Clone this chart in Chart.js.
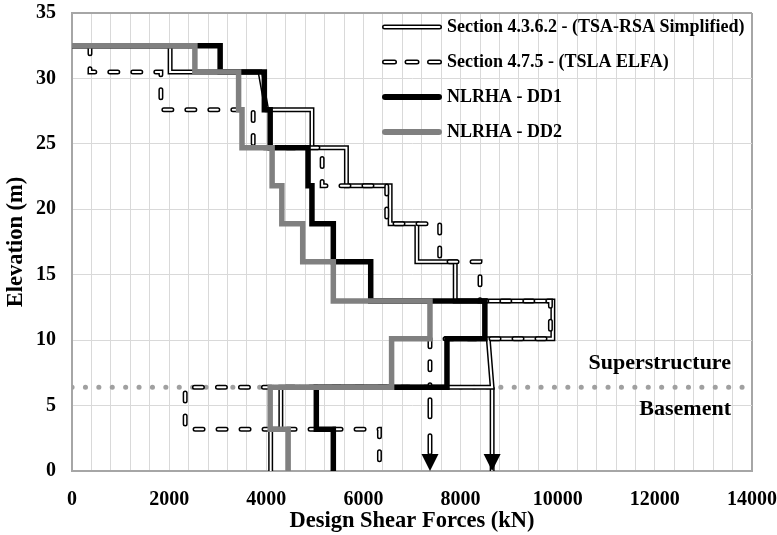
<!DOCTYPE html>
<html>
<head>
<meta charset="utf-8">
<script src="https://cdn.jsdelivr.net/npm/chart.js@4.4.1/dist/chart.umd.min.js"></script>
<style>
  html, body { margin: 0; padding: 0; background: #fff; }
  #wrap { width: 777px; height: 535px; }
</style>
</head>
<body>
<div id="wrap"><canvas id="shearChart" width="777" height="535"></canvas></div>
<script>
// step points of each curve: shear (kN) and elevation (m)
const rsaX = [0, 2020, 2020, 3870, 4010, 4940, 4940, 5650, 5650, 6550, 6550, 7100, 7100, 7890, 7890, 9900, 9900, 8570, 8650, 4300, 4300, 4090, 4090];
const rsaY = [32.5, 32.5, 30.5, 30.5, 27.6, 27.6, 24.7, 24.7, 21.8, 21.8, 18.9, 18.9, 16.0, 16.0, 13.0, 13.0, 10.1, 10.1, 6.4, 6.4, 3.2, 3.2, 0];

const elfaX = [370, 370, 1830, 1830, 3730, 3730, 5150, 5150, 6480, 6480, 7570, 7570, 8400, 8400, 9850, 9850, 7370, 7370, 2330, 2330, 6330, 6330];
const elfaY = [32.5, 30.5, 30.5, 27.6, 27.6, 24.7, 24.7, 21.8, 21.8, 18.9, 18.9, 16.0, 16.0, 13.0, 13.0, 10.1, 10.1, 6.4, 6.4, 3.2, 3.2, 0];

const dd1X = [0, 3050, 3050, 3960, 3960, 4080, 4080, 4860, 4860, 4940, 4940, 5380, 5380, 6150, 6150, 8500, 8500, 7720, 7720, 5030, 5030, 5380, 5380];
const dd1Y = [32.5, 32.5, 30.5, 30.5, 27.6, 27.6, 24.7, 24.7, 21.8, 21.8, 18.9, 18.9, 16.0, 16.0, 13.0, 13.0, 10.1, 10.1, 6.4, 6.4, 3.2, 3.2, 0];

const dd2X = [0, 2530, 2530, 3430, 3430, 3500, 3500, 4120, 4120, 4320, 4320, 4750, 4750, 5380, 5380, 7370, 7370, 6580, 6580, 4080, 4080, 4450, 4450];
const dd2Y = [32.5, 32.5, 30.5, 30.5, 27.6, 27.6, 24.7, 24.7, 21.8, 21.8, 18.9, 18.9, 16.0, 16.0, 13.0, 13.0, 10.1, 10.1, 6.4, 6.4, 3.2, 3.2, 0];

// arrows carrying the superstructure shear down through the basement
const arrowY = [6.4, 0];
const rsaArrowX = [8650, 8650];
const elfaArrowX = [7370, 7370];

// superstructure / basement boundary
const dividerX = [0, 14000];
const dividerY = [6.4, 6.4];

const legendLabels = ['Section 4.3.6.2 - (TSA-RSA Simplified)', 'Section 4.7.5 - (TSLA ELFA)', 'NLRHA - DD1', 'NLRHA - DD2'];

const serif = '"Liberation Serif", "Times New Roman", serif';

function toPoints(xs, ys) {
    return xs.map((x, i) => ({ x: x, y: ys[i] }));
}

function curve(label, xs, ys, style) {
    return Object.assign({
        label: label,
        data: toPoints(xs, ys),
        showLine: true,
        pointRadius: 0,
        pointHoverRadius: 0,
        fill: false,
        borderJoinStyle: 'miter',
        borderCapStyle: 'butt'
    }, style);
}

const dash = [8, 15];
const arrowDash = [17, 19];

// first dataset is drawn on top
const datasets = [
    curve('NLRHA - DD2', dd2X, dd2Y, { borderColor: '#808080', borderWidth: 5.5 }),
    curve('NLRHA - DD1', dd1X, dd1Y, { borderColor: '#000000', borderWidth: 5.5 }),
    curve('elfa-inner', elfaX, elfaY, { borderColor: '#ffffff', borderWidth: 2, borderDash: dash, borderCapStyle: 'round' }),
    curve('Section 4.7.5 - (TSLA ELFA)', elfaX, elfaY, { borderColor: '#000000', borderWidth: 5, borderDash: dash, borderCapStyle: 'round' }),
    curve('elfa-arrow-inner', elfaArrowX, arrowY, { borderColor: '#ffffff', borderWidth: 2, borderDash: arrowDash, borderDashOffset: 23.5, borderCapStyle: 'round', arrowHead: true }),
    curve('elfa-arrow', elfaArrowX, arrowY, { borderColor: '#000000', borderWidth: 5, borderDash: arrowDash, borderDashOffset: 23.5, borderCapStyle: 'round' }),
    curve('rsa-inner', rsaX, rsaY, { borderColor: '#ffffff', borderWidth: 2 }),
    curve('Section 4.3.6.2 - (TSA-RSA Simplified)', rsaX, rsaY, { borderColor: '#000000', borderWidth: 5 }),
    curve('rsa-arrow-inner', rsaArrowX, arrowY, { borderColor: '#ffffff', borderWidth: 2, arrowHead: true }),
    curve('rsa-arrow', rsaArrowX, arrowY, { borderColor: '#000000', borderWidth: 5 }),
    curve('divider', dividerX, dividerY, { borderColor: '#a0a0a0', borderWidth: 5, borderDash: [0.1, 13.3], borderCapStyle: 'round' })
];

const overlay = {
    id: 'overlay',
    afterDatasetsDraw(chart) {
        const ctx = chart.ctx;
        const area = chart.chartArea;
        const yScale = chart.scales.y;

        // arrow heads
        chart.data.datasets.forEach((ds, i) => {
            if (!ds.arrowHead) return;
            const pts = chart.getDatasetMeta(i).data;
            const tip = pts[pts.length - 1];
            ctx.save();
            ctx.fillStyle = '#000';
            ctx.beginPath();
            ctx.moveTo(tip.x, tip.y);
            ctx.lineTo(tip.x - 8.5, tip.y - 17);
            ctx.lineTo(tip.x + 8.5, tip.y - 17);
            ctx.closePath();
            ctx.fill();
            ctx.restore();
        });

        // zone labels
        const yDiv = yScale.getPixelForValue(dividerY[0]);
        ctx.save();
        ctx.font = 'bold 22px ' + serif;
        ctx.fillStyle = '#000';
        ctx.textAlign = 'right';
        ctx.textBaseline = 'middle';
        ctx.fillText('Superstructure', area.right - 21, yDiv - 24);
        ctx.fillText('Basement', area.right - 21, yDiv + 22);
        ctx.restore();

        // legend
        const x0 = 382, x1 = 442;
        ctx.save();
        legendLabels.forEach((text, i) => {
            const y = area.top + 14 + i * 35;
            ctx.setLineDash([]);
            ctx.lineCap = 'round';
            if (i === 0) {
                ctx.strokeStyle = '#000'; ctx.lineWidth = 5;
                ctx.beginPath(); ctx.moveTo(x0 + 2.5, y); ctx.lineTo(x1 - 2.5, y); ctx.stroke();
                ctx.strokeStyle = '#fff'; ctx.lineWidth = 2;
                ctx.beginPath(); ctx.moveTo(x0 + 2.5, y); ctx.lineTo(x1 - 2.5, y); ctx.stroke();
            } else if (i === 1) {
                [5, 2].forEach((w) => {
                    ctx.strokeStyle = w === 5 ? '#000' : '#fff';
                    ctx.lineWidth = w;
                    for (let k = 0; k < 3; k++) {
                        const s = x0 + 2.5 + k * 22.5;
                        ctx.beginPath(); ctx.moveTo(s, y); ctx.lineTo(s + 10, y); ctx.stroke();
                    }
                });
            } else {
                ctx.strokeStyle = i === 2 ? '#000' : '#808080';
                ctx.lineWidth = 6;
                ctx.beginPath(); ctx.moveTo(x0 + 3, y); ctx.lineTo(x1 - 3, y); ctx.stroke();
            }
            ctx.font = 'bold 18px ' + serif;
            ctx.fillStyle = '#000';
            ctx.textAlign = 'left';
            ctx.textBaseline = 'middle';
            ctx.fillText(text, x1 + 5, y);
        });
        ctx.restore();
    }
};

// keep the plot frame where the reference has it: no extra room for edge tick labels
function noEdgePadding(scale) {
    scale.paddingTop = 0;
    scale.paddingBottom = 0;
    scale.paddingLeft = 0;
    scale.paddingRight = 0;
}

const tickFont = { family: serif, size: 20, weight: 'bold' };
const titleFont = { family: serif, size: 22.5, weight: 'bold' };

new Chart(document.getElementById('shearChart').getContext('2d'), {
    type: 'scatter',
    data: { datasets: datasets },
    options: {
        responsive: false,
        animation: false,
        events: [],
        layout: { padding: { top: 13, right: 25, left: 0, bottom: 0 } },
        plugins: {
            legend: { display: false },
            tooltip: { enabled: false }
        },
        scales: {
            x: {
                type: 'linear',
                min: 0,
                max: 14000,
                afterFit: (scale) => { scale.height = 64; noEdgePadding(scale); },
                ticks: {
                    stepSize: 400,
                    autoSkip: false,
                    maxTicksLimit: 100,
                    maxRotation: 0,
                    padding: 17,
                    color: '#000',
                    font: tickFont,
                    callback: (v) => (v % 2000 === 0 ? v : '')
                },
                grid: {
                    drawTicks: false,
                    color: (c) => (c.tick && c.tick.value === 14000 ? '#a6a6a6' : '#d9d9d9'),
                    lineWidth: (c) => (c.tick && c.tick.value === 14000 ? 2 : 1)
                },
                border: { color: '#a6a6a6', width: 2 },
                title: {
                    display: true,
                    text: 'Design Shear Forces (kN)',
                    color: '#000',
                    font: titleFont,
                    padding: { top: 0, bottom: 0 }
                }
            },
            y: {
                type: 'linear',
                min: 0,
                max: 35,
                afterFit: (scale) => { scale.width = 72; noEdgePadding(scale); },
                ticks: {
                    stepSize: 5,
                    padding: 16,
                    color: '#000',
                    font: tickFont
                },
                grid: {
                    drawTicks: false,
                    color: (c) => (c.tick && c.tick.value === 35 ? '#a6a6a6' : '#d9d9d9'),
                    lineWidth: (c) => (c.tick && c.tick.value === 35 ? 2 : 1)
                },
                border: { color: '#a6a6a6', width: 2 },
                title: {
                    display: true,
                    text: 'Elevation (m)',
                    color: '#000',
                    font: titleFont,
                    padding: { top: 3, bottom: 0 }
                }
            }
        }
    },
    plugins: [overlay]
});
</script>
</body>
</html>
